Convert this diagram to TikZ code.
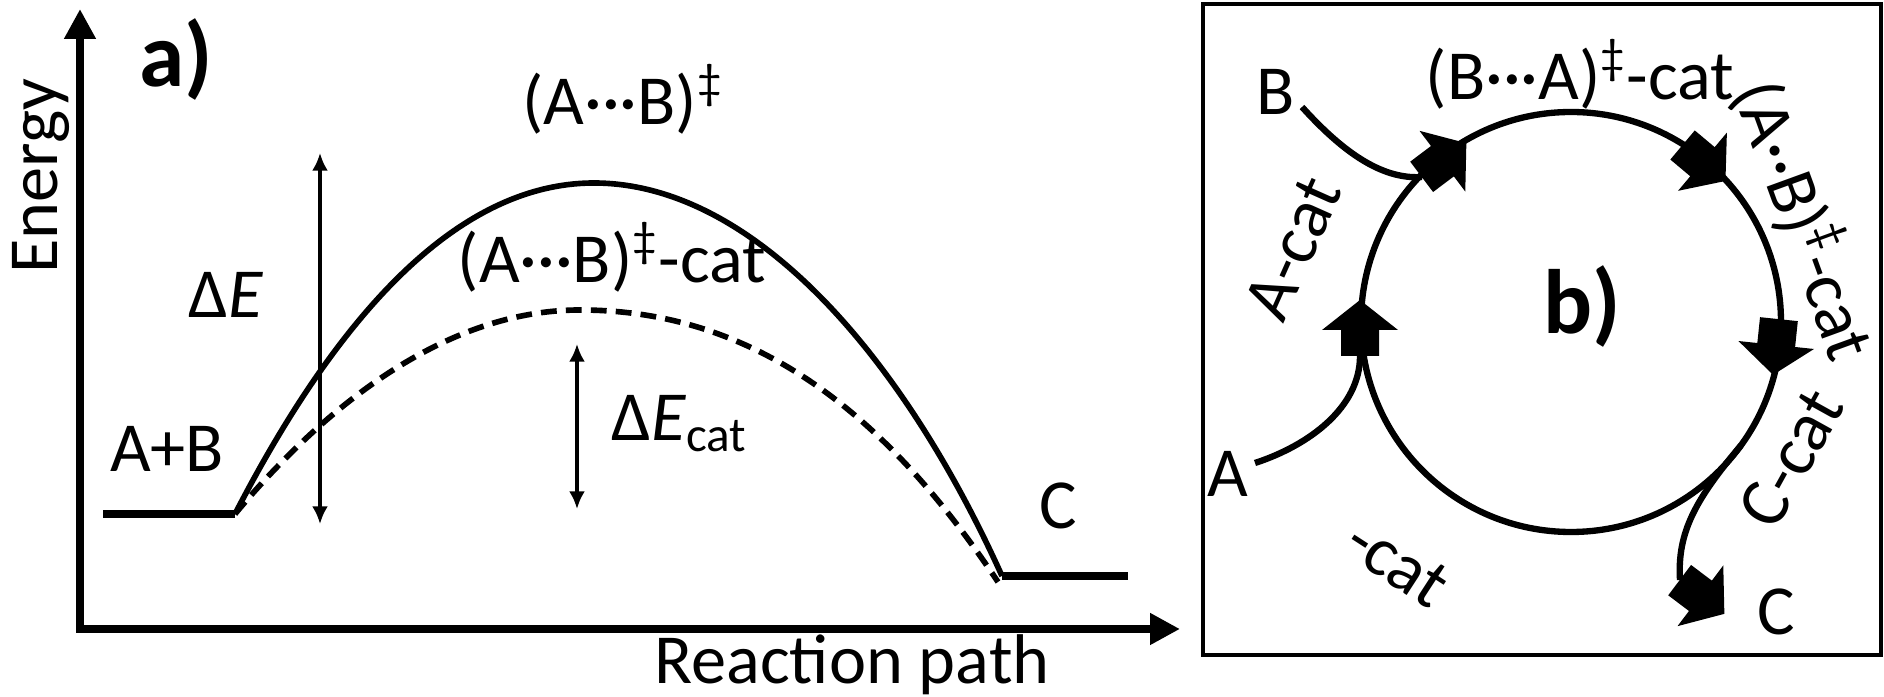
\documentclass[tikz,border=0pt]{standalone}
\usepackage{fontspec}
\setmainfont{Carlito}
\usepackage{tikz}
\usetikzlibrary{arrows.meta, calc}
\tikzset{
  axisline/.style={
    line width=2.5pt, line join=miter,
    {Triangle[length=8.5pt, width=8.5pt]}-{Triangle[length=8.5pt, width=8.5pt]}
  },
  levelline/.style={line width=2pt},
  pathline/.style={line width=1.6pt},
  catline/.style={line width=1.6pt, dash pattern=on 4.5pt off 2.6pt},
  gaparrow/.style={
    line width=0.9pt,
    {Latex[length=5pt, width=4.5pt]}-{Latex[length=5pt, width=4.5pt]}
  },
  lbl/.style={font=\fontsize{20}{24}\selectfont, inner sep=0pt},
  panellbl/.style={font=\fontsize{26}{30}\selectfont\bfseries, inner sep=0pt},
  cycleline/.style={line width=1.8pt},
  boxline/.style={line width=1.2pt},
  blockarr/.pic={
    \fill (28,0) -- (-2,38) -- (-2,19) -- (-28,19) -- (-28,-19)
      -- (-2,-19) -- (-2,-38) -- cycle;
  },
}

\begin{document}
\begin{tikzpicture}[x=0.01cm, y=0.01cm]
  \useasboundingbox (0,0) rectangle (1884,697);

  % a) energy profile
  \coordinate (origin) at (80,68);
  \coordinate (ytop) at (80,688);
  \coordinate (xend) at (1180,68);
  \draw[axisline] (ytop) -- (origin) -- (xend);

  \coordinate (ABl) at (103,183);
  \coordinate (ABr) at (235,183);
  \coordinate (Cl) at (1002,121);
  \coordinate (Cr) at (1128,121);
  \coordinate (Ccat) at (998,115);
  \coordinate (TS) at (594,514);
  \coordinate (TScat) at (580,387);
  \draw[levelline] (ABl) -- (ABr);
  \draw[levelline] (Cl) -- (Cr);

  \draw[pathline] (ABr) .. controls +(95,184) and +(-144,0) .. (TS)
    .. controls +(156,0) and +(-102,226) .. (Cl);
  \draw[catline] (ABr) .. controls +(95,114) and +(-130,0) .. (TScat)
    .. controls +(180,0) and +(-108,162) .. (Ccat);

  \coordinate (dEtop) at (320,544);
  \coordinate (dEbot) at (320,173);
  \coordinate (dEcattop) at (577,353);
  \coordinate (dEcatbot) at (577,188);
  \draw[gaparrow] (dEbot) -- (dEtop);
  \draw[gaparrow] (dEcatbot) -- (dEcattop);

  \node[panellbl, anchor=base] (la) at (176,610) {a)};
  \node[lbl, rotate=90, anchor=base] (lEnergy) at (58,521) {Energy};
  \node[lbl, anchor=base] (lRP) at (852,13) {Reaction path};
  \node[lbl, anchor=base] (lAB) at (167,225) {A+B};
  \node[lbl, anchor=base] (lC) at (1058,168) {C};
  \node[lbl, anchor=base] (lTS) at (623,572) {(A···B)\textsuperscript{‡}};
  \node[lbl, anchor=base] (lTScat) at (612,414) {(A···B)\textsuperscript{‡}-cat};
  \node[lbl, anchor=base west] (ldE) at (188,379) {Δ\textit{E}};
  \node[lbl, anchor=base west] (ldEcat) at (611,256) {Δ\textit{E}\textsubscript{cat}};

  % b) catalytic cycle
  \draw[boxline] (1203,42) rectangle (1881,693);
  \coordinate (cyc) at (1571,375);
  \draw[cycleline] (cyc) circle[radius=210];

  \coordinate (Bstart) at (1302,590);
  \coordinate (Btail) at (1422,520);
  \coordinate (Astart) at (1255,234);
  \coordinate (Atail) at (1360,341);
  \coordinate (Cstart) at ($(cyc)+(-36:210)$);
  \coordinate (Ctail) at (1680,117);
  \draw[cycleline] (Bstart) .. controls +(38,-42) and +(-42,-3) .. (Btail);
  \draw[cycleline] (Astart) .. controls +(55,18) and +(0,-51) .. (Atail);
  \draw[cycleline] (Cstart) .. controls +(-130:70) and +(-3,48) .. (Ctail);

  \pic[rotate=90] at (1360,369) {blockarr};
  \pic[rotate=37] at (1444,537) {blockarr};
  \pic[rotate=-40] at (1704,534) {blockarr};
  \pic[rotate=-96] at (1776,350) {blockarr};
  \pic[rotate=-37] at (1702,100) {blockarr};

  \node[panellbl, anchor=base] (lb) at (1582,363) {b)};
  \node[lbl, anchor=base] (rB) at (1276,582) {B};
  \node[lbl, anchor=base] (rA) at (1228,200) {A};
  \node[lbl, anchor=base] (rC) at (1776,62) {C};
  \node[lbl, anchor=base] (rBA) at (1580,597) {(B···A)\textsuperscript{‡}-cat};
  \node[lbl, rotate=-70] (rAB) at (1806,478) {(A··B)\textsuperscript{‡}-cat};
  \node[lbl, rotate=66] (rAcat) at (1293,449) {A-cat};
  \node[lbl, rotate=61] (rCcat) at (1791,239) {C-cat};
  \node[lbl, rotate=-33] (rcat) at (1397,134) {-cat};
\end{tikzpicture}
\end{document}
